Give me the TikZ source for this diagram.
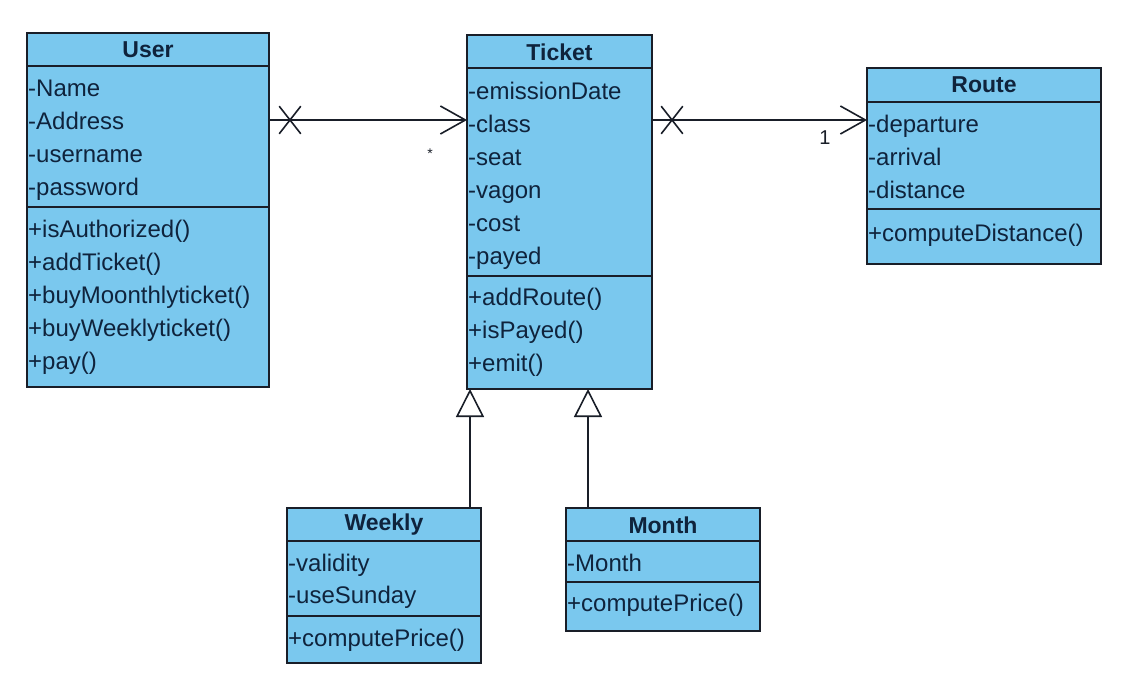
\documentclass[tikz,border=0pt]{standalone}
\usepackage{fontspec}
\setmainfont{Liberation Sans}
\usepackage{xcolor}
\usepackage{tikz}
\usetikzlibrary{arrows.meta, calc, shapes.misc}

\definecolor{clsfill}{RGB}{122,200,238}
\definecolor{linecol}{RGB}{25,30,40}
\definecolor{txtcol}{RGB}{15,35,60}

\begin{document}
\begin{tikzpicture}[x=1pt, y=-1pt,
  cls/.style={draw=linecol, line width=1.6pt, fill=clsfill, inner sep=0pt, outer sep=0pt, anchor=north west},
  title/.style={font=\fontsize{23}{27}\selectfont\bfseries, text=txtcol, inner sep=0pt},
  member/.style={font=\fontsize{24}{28}\selectfont, text=txtcol, anchor=base west, inner sep=1pt},
  sep/.style={draw=linecol, line width=1.6pt},
  assoc/.style={-{Straight Barb[length=25pt, width=28pt]}, line width=1.6pt, draw=linecol},
  gen/.style={-{Triangle[open, length=28pt, width=28pt]}, line width=1.6pt, draw=linecol},
  xmark/.style={cross out, draw=linecol, line width=1.6pt, minimum width=20pt, minimum height=26pt, inner sep=0pt},
  mult/.style={text=linecol, inner sep=0pt, anchor=base}
]
\useasboundingbox (0,0) rectangle (1145,693);

% Classes
\node[cls, minimum width=242pt, minimum height=354pt] (user) at (27,33) {};
\node[cls, minimum width=185pt, minimum height=354pt] (ticket) at (467,35) {};
\node[cls, minimum width=234pt, minimum height=196pt] (route) at (867,68) {};
\node[cls, minimum width=194pt, minimum height=155pt] (weekly) at (287,508) {};
\node[cls, minimum width=194pt, minimum height=123pt] (month) at (566,508) {};

% Compartments
\draw[sep] ($(user.north west)+(0,33)$) -- ($(user.north east)+(0,33)$);
\draw[sep] ($(user.north west)+(0,174)$) -- ($(user.north east)+(0,174)$);
\draw[sep] ($(ticket.north west)+(0,33)$) -- ($(ticket.north east)+(0,33)$);
\draw[sep] ($(ticket.north west)+(0,241)$) -- ($(ticket.north east)+(0,241)$);
\draw[sep] ($(route.north west)+(0,34)$) -- ($(route.north east)+(0,34)$);
\draw[sep] ($(route.north west)+(0,141)$) -- ($(route.north east)+(0,141)$);
\draw[sep] ($(weekly.north west)+(0,33)$) -- ($(weekly.north east)+(0,33)$);
\draw[sep] ($(weekly.north west)+(0,108)$) -- ($(weekly.north east)+(0,108)$);
\draw[sep] ($(month.north west)+(0,33)$) -- ($(month.north east)+(0,33)$);
\draw[sep] ($(month.north west)+(0,74)$) -- ($(month.north east)+(0,74)$);

% Titles
\node[title] (user-t) at ($(user.north)+(0,17)$) {User};
\node[title] (ticket-t) at ($(ticket.north)+(0,17)$) {Ticket};
\node[title] (route-t) at ($(route.north)+(0,17)$) {Route};
\node[title] (weekly-t) at ($(weekly.north)+(0,17)$) {Weekly};
\node[title] (month-t) at ($(month.north)+(0,17)$) {Month};

% Members
\foreach \t [count=\i from 0] in {-Name, -Address, -username, -password}
  \node[member] (user-a\i) at ($(user.north west)+(0,63+33*\i)$) {\t};
\foreach \t [count=\i from 0] in {+isAuthorized(), +addTicket(), +buyMoonthlyticket(), +buyWeeklyticket(), +pay()}
  \node[member] (user-m\i) at ($(user.north west)+(0,204+33*\i)$) {\t};

\foreach \t [count=\i from 0] in {-emissionDate, -class, -seat, -vagon, -cost, -payed}
  \node[member] (ticket-a\i) at ($(ticket.north west)+(0,64+33*\i)$) {\t};
\foreach \t [count=\i from 0] in {+addRoute(), +isPayed(), +emit()}
  \node[member] (ticket-m\i) at ($(ticket.north west)+(0,270+33*\i)$) {\t};

\foreach \t [count=\i from 0] in {-departure, -arrival, -distance}
  \node[member] (route-a\i) at ($(route.north west)+(0,64+33*\i)$) {\t};
\node[member] (route-m0) at ($(route.north west)+(0,173)$) {+computeDistance()};

\foreach \t [count=\i from 0] in {-validity, -useSunday}
  \node[member] (weekly-a\i) at ($(weekly.north west)+(0,63+32*\i)$) {\t};
\node[member] (weekly-m0) at ($(weekly.north west)+(0,138)$) {+computePrice()};

\node[member] (month-a0) at ($(month.north west)+(0,63)$) {-Month};
\node[member] (month-m0) at ($(month.north west)+(0,103)$) {+computePrice()};

% Associations
\coordinate (ut) at ($(user.north east)+(0,87)$);
\draw[assoc] (ut) -- (ut -| ticket.west);
\node[xmark] (ut-x) at ($(ut)+(21,0)$) {};
\node[mult, font=\fontsize{14}{16}\selectfont] (ut-m) at ($(ut -| ticket.west)+(-37,38)$) {*};

\coordinate (tr) at ($(ticket.north east)+(0,85)$);
\draw[assoc] (tr) -- (tr -| route.west);
\node[xmark] (tr-x) at ($(tr)+(20,0)$) {};
\node[mult, font=\fontsize{20}{24}\selectfont] (tr-m) at ($(tr -| route.west)+(-42,24)$) {1};

% Generalizations
\coordinate (wk) at ($(weekly.north east)+(-11,0)$);
\draw[gen] (wk) -- (wk |- ticket.south);
\coordinate (mo) at ($(month.north west)+(22,0)$);
\draw[gen] (mo) -- (mo |- ticket.south);

\end{tikzpicture}
\end{document}
